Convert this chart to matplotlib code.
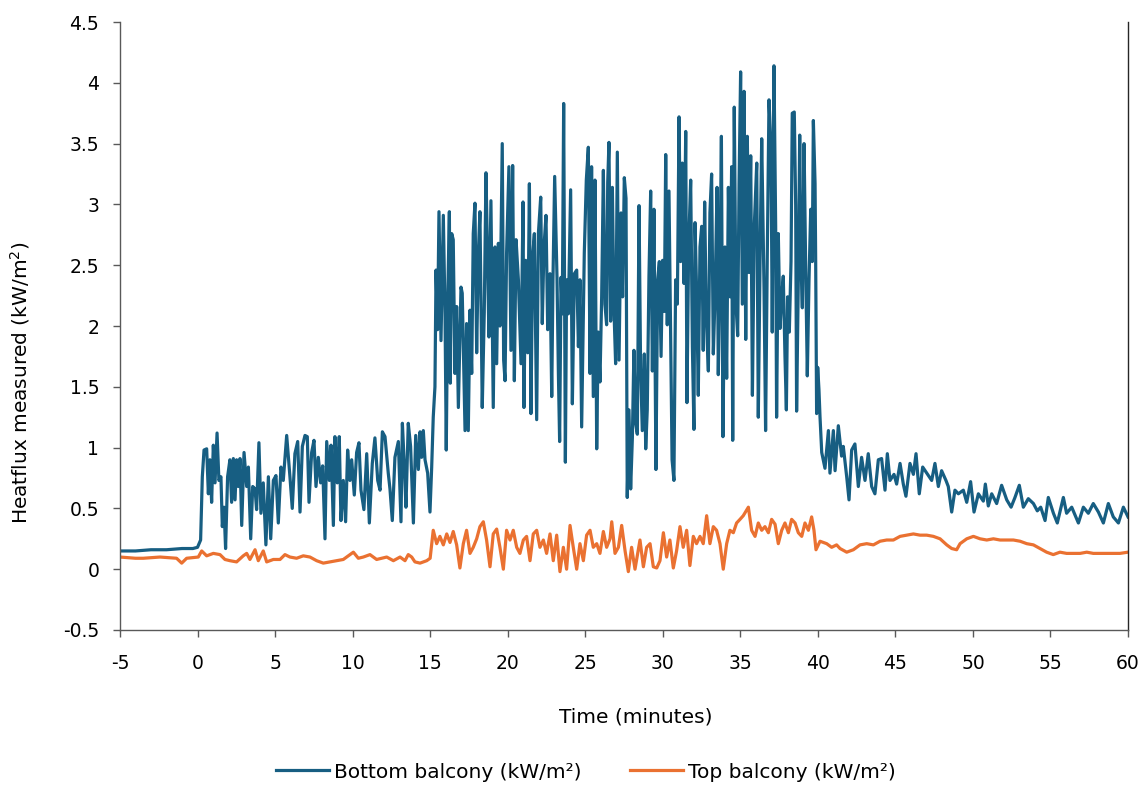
import matplotlib
matplotlib.use("Agg")
import matplotlib.pyplot as plt
from matplotlib.ticker import FuncFormatter, MultipleLocator

# Heat flux time series (time in minutes, heat flux in kW/m²)
bottom_t = [
    -5.0, -4.0, -3.0, -2.0, -1.0, -0.3, 0.0, 0.20, 0.31, 0.42, 0.59, 0.70, 0.80, 0.91,
    1.02, 1.13, 1.26, 1.38, 1.51, 1.60, 1.71, 1.81, 1.94, 2.09, 2.20, 2.31, 2.42, 2.52,
    2.63, 2.74, 2.85, 3.00, 3.17, 3.28, 3.43, 3.56, 3.71, 3.81, 3.96, 4.09, 4.24, 4.41,
    4.57, 4.72, 4.89, 5.06, 5.21, 5.38, 5.53, 5.75, 5.96, 6.11, 6.28, 6.46, 6.61, 6.76,
    6.93, 7.08, 7.19, 7.36, 7.51, 7.64, 7.79, 7.94, 8.07, 8.22, 8.33, 8.50, 8.61, 8.76,
    8.86, 9.01, 9.14, 9.25, 9.40, 9.55, 9.68, 9.83, 9.94, 10.11, 10.26, 10.41, 10.54,
    10.73, 10.91, 11.08, 11.27, 11.44, 11.62, 11.77, 11.92, 12.09, 12.30, 12.41, 12.56,
    12.73, 12.95, 13.12, 13.21, 13.34, 13.44, 13.59, 13.74, 13.92, 14.07, 14.24, 14.35,
    14.45, 14.56, 14.67, 14.84, 14.99, 15.10, 15.20, 15.31, 15.38, 15.48, 15.57, 15.70,
    15.85, 15.96, 16.04, 16.13, 16.24, 16.30, 16.39, 16.49, 16.60, 16.71, 16.82, 16.99,
    17.07, 17.25, 17.35, 17.46, 17.57, 17.68, 17.78, 17.89, 18.00, 18.11, 18.21, 18.36,
    18.49, 18.60, 18.69, 18.79, 18.92, 19.07, 19.18, 19.29, 19.40, 19.50, 19.65, 19.74,
    19.83, 19.93, 20.08, 20.21, 20.32, 20.43, 20.54, 20.69, 20.86, 20.99, 21.05, 21.16,
    21.29, 21.40, 21.50, 21.61, 21.72, 21.87, 21.98, 22.13, 22.23, 22.34, 22.47, 22.58,
    22.73, 22.84, 22.92, 23.03, 23.18, 23.27, 23.35, 23.44, 23.52, 23.61, 23.72, 23.80,
    23.91, 24.06, 24.17, 24.30, 24.45, 24.56, 24.66, 24.77, 24.94, 25.07, 25.20, 25.31,
    25.41, 25.52, 25.63, 25.74, 25.84, 25.95, 26.06, 26.17, 26.27, 26.38, 26.45, 26.53,
    26.64, 26.75, 26.85, 26.96, 27.07, 27.18, 27.31, 27.41, 27.52, 27.63, 27.71, 27.82,
    27.93, 28.04, 28.14, 28.25, 28.36, 28.47, 28.57, 28.68, 28.81, 28.90, 29.00, 29.11,
    29.22, 29.33, 29.43, 29.56, 29.67, 29.78, 29.89, 29.99, 30.10, 30.19, 30.29, 30.40,
    30.53, 30.60, 30.72, 30.83, 30.94, 31.05, 31.15, 31.26, 31.37, 31.48, 31.56, 31.67,
    31.80, 31.91, 32.01, 32.08, 32.19, 32.29, 32.40, 32.51, 32.61, 32.70, 32.81, 32.94,
    33.04, 33.15, 33.26, 33.37, 33.50, 33.58, 33.69, 33.78, 33.88, 34.01, 34.12, 34.23,
    34.34, 34.44, 34.51, 34.61, 34.72, 34.83, 34.92, 35.02, 35.13, 35.24, 35.35, 35.45,
    35.56, 35.67, 35.78, 35.90, 36.06, 36.16, 36.29, 36.38, 36.53, 36.63, 36.74, 36.85,
    36.98, 37.06, 37.17, 37.28, 37.34, 37.45, 37.56, 37.67, 37.77, 37.88, 37.97, 38.05,
    38.16, 38.27, 38.35, 38.48, 38.57, 38.63, 38.74, 38.83, 38.91, 39.00, 39.11, 39.21,
    39.32, 39.43, 39.54, 39.64, 39.71, 39.82, 39.86, 39.92, 39.99, 40.07, 40.14, 40.25,
    40.46, 40.68, 40.78, 41.00, 41.11, 41.32, 41.53, 41.64, 41.86, 42.01, 42.18, 42.39,
    42.61, 42.82, 43.04, 43.25, 43.47, 43.68, 43.90, 44.11, 44.33, 44.48, 44.65, 44.91,
    45.08, 45.30, 45.51, 45.68, 45.94, 46.16, 46.33, 46.54, 46.76, 47.02, 47.34, 47.55,
    47.77, 47.98, 48.26, 48.41, 48.63, 48.84, 49.06, 49.38, 49.60, 49.85, 50.07, 50.35,
    50.67, 50.80, 50.99, 51.21, 51.53, 51.85, 52.18, 52.46, 52.71, 52.99, 53.25, 53.57,
    53.90, 54.15, 54.37, 54.65, 54.86, 55.19, 55.44, 55.83, 56.04, 56.37, 56.80, 57.12,
    57.44, 57.76, 58.09, 58.41, 58.73, 59.05, 59.38, 59.70, 60.0,
]
bottom_v = [
    0.15, 0.15, 0.16, 0.16, 0.17, 0.17, 0.18, 0.24, 0.76, 0.98, 0.99, 0.62, 0.90, 0.55,
    1.02, 0.71, 1.12, 0.73, 0.76, 0.35, 0.51, 0.17, 0.76, 0.90, 0.55, 0.91, 0.57, 0.90,
    0.68, 0.91, 0.36, 0.96, 0.68, 0.84, 0.25, 0.68, 0.66, 0.49, 1.04, 0.46, 0.71, 0.20,
    0.76, 0.25, 0.73, 0.77, 0.38, 0.84, 0.73, 1.10, 0.76, 0.50, 0.95, 1.05, 0.47, 1.01,
    1.10, 1.09, 0.55, 0.96, 1.06, 0.68, 0.92, 0.71, 0.85, 0.25, 1.05, 0.73, 1.02, 0.36,
    1.09, 0.71, 1.09, 0.40, 0.73, 0.39, 0.98, 0.73, 0.90, 0.61, 0.96, 1.04, 0.65,
    0.49, 0.95, 0.38, 0.87, 1.08, 0.73, 0.65, 1.13, 1.09, 0.79, 0.66, 0.40,
    0.92, 1.05, 0.39, 1.20, 0.84, 0.51, 1.20, 1.01, 0.38, 1.10, 0.82, 1.13,
    0.92, 1.14, 0.90, 0.79, 0.47, 0.84, 1.25, 1.50, 2.46, 1.97, 2.94, 1.88,
    2.91, 2.10, 0.98, 2.19, 2.94, 1.53, 2.76, 2.71, 1.61, 2.16, 1.33, 2.32,
    2.27, 1.14, 2.02, 1.14, 2.13, 1.61, 2.76, 3.01, 1.78, 2.60, 2.94, 1.33,
    2.11, 3.26, 2.65, 1.91, 3.03, 1.33, 2.65, 1.69, 2.68, 2.00, 3.50, 1.72,
    1.55, 2.60, 3.31, 1.80, 3.32, 1.55, 2.71, 2.38, 1.69, 3.02, 1.33, 2.54,
    1.78, 3.17, 1.28, 2.57, 2.76, 1.23, 2.76, 3.06, 2.02, 2.65, 2.91, 1.97,
    2.43, 1.42, 2.38, 3.23, 2.40, 1.61, 1.05, 2.40, 2.10, 3.83, 0.88, 2.38,
    2.10, 3.12, 1.36, 2.43, 2.46, 1.83, 2.38, 1.17, 2.60, 3.20, 3.47, 1.61,
    3.31, 1.42, 3.20, 0.99, 1.95, 1.54, 2.24, 3.28, 2.18, 2.01, 3.18, 3.51,
    2.04, 3.14, 2.15, 1.69, 3.43, 1.72, 2.93, 2.24, 3.22, 3.05, 0.59, 1.31,
    0.66, 1.08, 1.80, 1.20, 1.11, 2.99, 1.66, 1.14, 1.77, 0.99, 1.31, 2.41,
    3.11, 1.63, 2.96, 0.82, 2.38, 2.53, 1.75, 2.54, 2.12, 3.41, 2.01, 3.11,
    1.66, 0.90, 0.73, 2.38, 2.18, 3.72, 2.53, 3.34, 2.35, 3.60, 1.37, 2.67,
    3.20, 1.83, 1.15, 2.85, 2.24, 1.43, 2.65, 2.82, 1.80, 3.02, 2.06, 1.63,
    2.93, 3.25, 1.77, 2.24, 3.14, 1.60, 2.50, 3.56, 1.09, 2.65, 1.57, 3.14,
    2.24, 3.31, 1.06, 3.80, 2.18, 1.92, 3.17, 4.09, 2.18, 3.93, 1.89, 3.56,
    2.44, 3.40, 1.43, 2.82, 3.34, 1.25, 2.73, 3.54, 2.30, 1.14, 2.59, 3.86,
    3.46, 1.95, 4.14, 2.82, 1.25, 2.76, 1.98, 2.24, 2.41, 1.75, 1.31, 2.24,
    1.95, 2.53, 3.75, 3.76, 2.99, 1.30, 2.38, 3.57, 2.53, 2.15, 3.50, 2.53,
    1.59, 2.38, 2.96, 2.53, 3.69, 3.17, 2.53, 1.28, 1.66, 1.48, 1.25, 0.96,
    0.83, 1.14, 0.79, 1.14, 0.81, 1.18, 0.93, 1.01, 0.76, 0.57, 0.98, 1.03,
    0.68, 0.92, 0.73, 0.95, 0.68, 0.62, 0.90, 0.91, 0.65, 0.95, 0.73, 0.78,
    0.70, 0.87, 0.70, 0.60, 0.87, 0.78, 0.95, 0.62, 0.84, 0.79, 0.73, 0.87,
    0.68, 0.81, 0.73, 0.68, 0.47, 0.65, 0.62, 0.65, 0.55, 0.72, 0.47, 0.62,
    0.56, 0.70, 0.52, 0.62, 0.54, 0.69, 0.57, 0.51, 0.59, 0.69, 0.51, 0.58,
    0.54, 0.48, 0.51, 0.40, 0.59, 0.46, 0.38, 0.59, 0.46, 0.51, 0.38, 0.51,
    0.46, 0.54, 0.47, 0.38, 0.54, 0.43, 0.38, 0.51, 0.43,
]

top_t = [
    -5.0, -4.0, -3.5, -2.42, -1.35, -1.02, -0.70, 0.05, 0.27, 0.59, 1.02, 1.45, 1.77,
    2.09, 2.52, 2.95, 3.17, 3.38, 3.71, 3.92, 4.24, 4.46, 4.89, 5.32, 5.64, 5.96, 6.39,
    6.82, 7.25, 7.68, 8.11, 8.54, 8.97, 9.40, 9.72, 10.05, 10.37, 10.69, 11.12, 11.55,
    11.87, 12.20, 12.63, 13.06, 13.38, 13.59, 13.81, 14.02, 14.35, 14.78, 15.00,
    15.20, 15.42, 15.63, 15.85, 16.07, 16.28, 16.49, 16.71, 16.92, 17.14, 17.35, 17.57,
    17.78, 18.00, 18.21, 18.43, 18.64, 18.86, 19.07, 19.29, 19.50, 19.72, 19.93, 20.15,
    20.36, 20.58, 20.79, 21.01, 21.22, 21.44, 21.65, 21.87, 22.08, 22.30, 22.51, 22.73,
    22.94, 23.16, 23.37, 23.59, 23.80, 24.02, 24.23, 24.45, 24.66, 24.88, 25.09, 25.31,
    25.52, 25.74, 25.95, 26.17, 26.38, 26.60, 26.71, 26.92, 27.14, 27.35, 27.57, 27.78,
    27.99, 28.21, 28.53, 28.75, 28.96, 29.18, 29.39, 29.61, 29.82, 30.04, 30.25, 30.46,
    30.68, 30.89, 31.11, 31.32, 31.54, 31.75, 31.97, 32.18, 32.40, 32.61, 32.83, 33.04,
    33.26, 33.47, 33.69, 33.90, 34.12, 34.33, 34.55, 34.76, 34.98, 35.19, 35.52, 35.73,
    35.95, 36.16, 36.38, 36.59, 36.81, 37.02, 37.24, 37.45, 37.67, 37.88, 38.10, 38.31,
    38.53, 38.74, 38.96, 39.17, 39.39, 39.60, 39.75, 39.88, 40.14, 40.57, 40.89, 41.21,
    41.43, 41.86, 42.29, 42.72, 43.15, 43.58, 44.01, 44.44, 44.87, 45.30, 45.73, 46.16,
    46.59, 47.02, 47.45, 47.88, 48.31, 48.63, 48.95, 49.17, 49.60, 50.03, 50.46, 50.89,
    51.32, 51.75, 52.18, 52.61, 53.04, 53.47, 53.90, 54.32, 54.75, 55.18, 55.61, 56.04,
    56.47, 56.91, 57.34, 57.76, 58.19, 58.62, 59.05, 59.48, 60.0,
]
top_v = [
    0.10, 0.09, 0.09, 0.10, 0.09, 0.05, 0.09, 0.10, 0.15, 0.11, 0.13, 0.12, 0.08,
    0.07, 0.06, 0.11, 0.13, 0.08, 0.16, 0.07, 0.15, 0.06, 0.08, 0.08, 0.12, 0.10, 0.09,
    0.11, 0.10, 0.07, 0.05, 0.06, 0.07, 0.08, 0.11, 0.14, 0.09, 0.10, 0.12, 0.08,
    0.09, 0.10, 0.07, 0.10, 0.07, 0.12, 0.10, 0.06, 0.05, 0.07, 0.09,
    0.32, 0.21, 0.27, 0.20, 0.29, 0.22, 0.31, 0.20, 0.01, 0.21, 0.32, 0.13,
    0.18, 0.25, 0.35, 0.39, 0.24, 0.02, 0.29, 0.33, 0.18, 0.00, 0.32, 0.24,
    0.32, 0.18, 0.13, 0.24, 0.27, 0.07, 0.29, 0.32, 0.18, 0.24, 0.13, 0.29,
    0.07, 0.28, -0.02, 0.18, 0.00, 0.36, 0.18, 0.00, 0.21, 0.07, 0.28, 0.32,
    0.18, 0.21, 0.13, 0.31, 0.18, 0.25, 0.39, 0.13, 0.18, 0.36, 0.15, -0.02,
    0.18, 0.00, 0.24, 0.02, 0.18, 0.21, 0.02, 0.01, 0.07, 0.30, 0.10, 0.24,
    0.01, 0.15, 0.35, 0.18, 0.32, 0.03, 0.27, 0.21, 0.27, 0.21, 0.44, 0.21,
    0.35, 0.32, 0.21, 0.00, 0.21, 0.32, 0.30, 0.38, 0.41, 0.44, 0.51, 0.32,
    0.27, 0.38, 0.32, 0.35, 0.30, 0.41, 0.37, 0.21, 0.32, 0.38, 0.30, 0.41,
    0.38, 0.30, 0.27, 0.38, 0.32, 0.43, 0.32, 0.16, 0.23, 0.21, 0.18, 0.20,
    0.17, 0.14, 0.16, 0.20, 0.21, 0.20, 0.23, 0.24, 0.24, 0.27, 0.28, 0.29,
    0.28, 0.28, 0.27, 0.25, 0.20, 0.17, 0.16, 0.21, 0.25, 0.27, 0.25, 0.24,
    0.25, 0.24, 0.24, 0.24, 0.23, 0.21, 0.20, 0.17, 0.14, 0.12, 0.14, 0.13,
    0.13, 0.13, 0.14, 0.13, 0.13, 0.13, 0.13, 0.13, 0.14,
]

x_ticks = list(range(-5, 61, 5))
series_labels = ["Bottom balcony (kW/m²)", "Top balcony (kW/m²)"]
series_colors = ["#175E82", "#EA7131"]

plt.rcParams["font.family"] = ["DejaVu Sans"]
plt.rcParams["axes.unicode_minus"] = False

fig = plt.figure(figsize=(11.48, 7.87), dpi=100)
ax = fig.add_axes([0.1045, 0.1995, 0.8781, 0.7725])

ax.plot(bottom_t, bottom_v, color=series_colors[0], lw=2.3, label=series_labels[0],
        solid_joinstyle="round")
ax.plot(top_t, top_v, color=series_colors[1], lw=2.3, label=series_labels[1],
        solid_joinstyle="round")

ax.set_xlim(-5, 60)
ax.set_ylim(-0.5, 4.5)
ax.set_xticks(x_ticks)
ax.yaxis.set_major_locator(MultipleLocator(0.5))
fmt = FuncFormatter(lambda v, _: f"{v:g}")
ax.xaxis.set_major_formatter(fmt)
ax.yaxis.set_major_formatter(fmt)

axis_col = "#595959"
ax.spines["top"].set_visible(False)
for side in ("left", "bottom", "right"):
    ax.spines[side].set_color(axis_col)
    ax.spines[side].set_linewidth(1.0)
ax.spines["right"].set_color("#262626")

ax.tick_params(axis="both", direction="out", length=5, width=1.0, color=axis_col,
               labelsize=13.5, labelcolor="#000000")
ax.tick_params(axis="x", pad=12)
ax.tick_params(axis="y", pad=10)

ax.set_xlabel("Time (minutes)", fontsize=14.5)
ax.xaxis.set_label_coords(0.512, -0.128)
ax.set_ylabel("Heatflux measured (kW/m$^2$)", fontsize=14.5, va="center")
ax.yaxis.set_label_coords(-0.099, 0.406)

fig.legend(loc="center", bbox_to_anchor=(0.5105, 0.019), ncol=2, frameon=False,
           fontsize=14.5, handlelength=2.63, columnspacing=2.4, handletextpad=0.25)

fig.savefig("out.png", dpi=100)
